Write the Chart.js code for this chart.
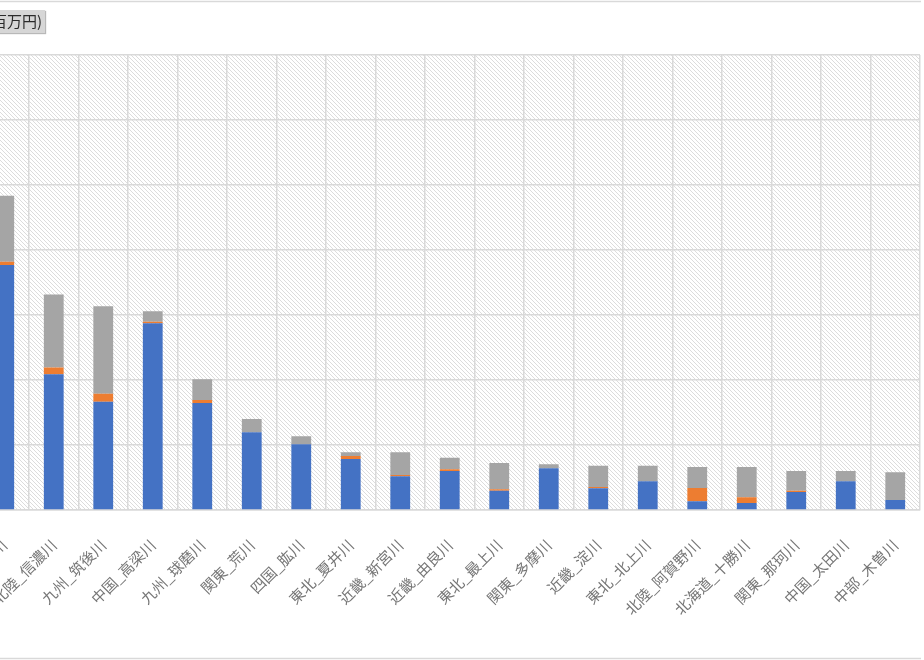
<!DOCTYPE html>
<html lang="ja">
<head>
<meta charset="utf-8">
<title>河川別 水害被害額</title>
<script src="https://cdn.jsdelivr.net/npm/chart.js@4"></script>
<style>
    html, body { margin: 0; padding: 0; background: #fff; overflow: hidden; }
    #wrap { position: relative; width: 924px; height: 660px; overflow: hidden; }
    #chartBox { position: absolute; left: -100px; top: 0; width: 1024px; height: 660px; }
    #unit {
        position: absolute; right: 879px; top: 10px; height: 23px; line-height: 23px;
        padding: 0 3px 0 6px; background: #d6d6d6; color: #2b2b2b;
        font: 15px "Noto Sans CJK JP", sans-serif; white-space: nowrap;
        box-shadow: 1px 1px 1px #b8b8b8;
    }
</style>
</head>
<body>
<div id="wrap">
    <div id="chartBox"><canvas id="damageChart" width="1024" height="660"></canvas></div>
    <div id="unit">(単位:百万円)</div>
</div>
<script>
// 河川名（左端は画面外で切れている）
const rivers = [
    "東北_阿武隈川", "北陸_信濃川", "九州_筑後川", "中国_高梁川", "九州_球磨川",
    "関東_荒川", "四国_肱川", "東北_夏井川", "近畿_新宮川", "近畿_由良川",
    "東北_最上川", "関東_多摩川", "近畿_淀川", "東北_北上川", "北陸_阿賀野川",
    "北海道_十勝川", "関東_那珂川", "中国_太田川", "中部_木曽川"
];

// 被害額（百万円）
const generalAssets = [37700, 20900, 16660, 28720, 16460, 11950, 10100, 7850, 5180, 6000,
    2970, 6420, 3340, 4420, 1340, 1080, 2770, 4420, 1540];
const publicUtilities = [500, 1030, 1230, 250, 460, 0, 0, 460, 200, 260,
    220, 0, 200, 0, 2050, 880, 200, 0, 0];
const publicWorks = [10150, 11230, 13450, 1600, 3180, 2050, 1230, 570, 3490, 1780,
    4050, 620, 3280, 2400, 3230, 4660, 3030, 1580, 4260];

// y軸目盛
const yTicks = [0, 10000, 20000, 30000, 40000, 50000, 60000, 70000];

function makeHatch() {
    const tile = document.createElement("canvas");
    tile.width = 4;
    tile.height = 4;
    const tctx = tile.getContext("2d");
    tctx.fillStyle = "#fff";
    tctx.fillRect(0, 0, 4, 4);
    tctx.fillStyle = "#dcdcdc";
    for (let i = 0; i < 4; i++) {
        tctx.fillRect(i, i, 1, 1);
    }
    return tile;
}

// 背景の斜線と外枠
const plotDecor = {
    id: "plotDecor",
    beforeDraw(chart) {
        const { ctx, chartArea } = chart;
        ctx.save();
        ctx.fillStyle = ctx.createPattern(makeHatch(), "repeat");
        ctx.fillRect(chartArea.left, chartArea.top,
            chartArea.right - chartArea.left, chartArea.bottom - chartArea.top);
        ctx.restore();
    },
    afterDraw(chart) {
        const { ctx, width } = chart;
        ctx.save();
        ctx.strokeStyle = "#d9d9d9";
        ctx.lineWidth = 1.5;
        ctx.beginPath();
        ctx.moveTo(0, 1.5);
        ctx.lineTo(width - 3, 1.5);
        ctx.moveTo(0, 658.5);
        ctx.lineTo(width - 3, 658.5);
        ctx.stroke();
        ctx.restore();
    }
};

const ctx = document.getElementById("damageChart").getContext("2d");
new Chart(ctx, {
    type: "bar",
    data: {
        labels: rivers,
        datasets: [
            { label: "一般資産等被害額", data: generalAssets, backgroundColor: "#4472C4" },
            { label: "公益事業等被害額", data: publicUtilities, backgroundColor: "#ED7D31" },
            { label: "公共土木施設被害額", data: publicWorks, backgroundColor: "#A5A5A5" }
        ]
    },
    options: {
        responsive: false,
        animation: false,
        layout: { padding: { top: 55, right: 4, bottom: 0, left: 0 } },
        datasets: { bar: { barPercentage: 0.4, categoryPercentage: 1.0 } },
        plugins: {
            legend: { display: false },
            tooltip: { enabled: false }
        },
        scales: {
            x: {
                stacked: true,
                grid: { color: "#d9d9d9", lineWidth: 1.5, drawTicks: false },
                border: { color: "#d9d9d9", width: 1.5 },
                ticks: {
                    autoSkip: false,
                    minRotation: 45,
                    maxRotation: 45,
                    padding: 26,
                    color: "#767676",
                    font: { family: "'Noto Sans CJK JP', sans-serif", size: 15 }
                },
                afterFit(scale) {
                    scale.height = 150;
                    scale.paddingLeft = 0;
                    scale.paddingRight = 0;
                }
            },
            y: {
                stacked: true,
                min: 0,
                max: yTicks[yTicks.length - 1],
                afterBuildTicks(scale) { scale.ticks = yTicks.map(v => ({ value: v })); },
                grid: { color: "#d9d9d9", lineWidth: 1.5, drawTicks: false },
                border: { display: false },
                ticks: {
                    color: "#707070",
                    font: { family: "'Noto Sans CJK JP', sans-serif", size: 14 },
                    callback: (v) => v.toLocaleString()
                },
                afterFit(scale) { scale.width = 79.5; }
            }
        }
    },
    plugins: [plotDecor]
});
</script>
</body>
</html>
